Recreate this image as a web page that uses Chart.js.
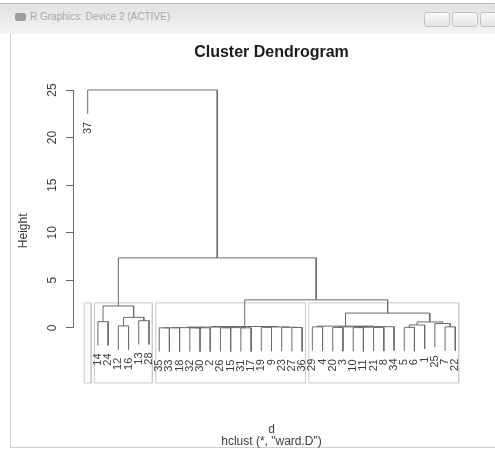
<!DOCTYPE html>
<html>
<head>
<meta charset="utf-8">
<title>Cluster Dendrogram</title>
<script src="https://cdn.jsdelivr.net/npm/chart.js@4.4.0/dist/chart.umd.min.js"></script>
<style>
body { margin:0; width:495px; height:452px; background:#fff; overflow:hidden; position:relative; font-family:"Liberation Sans", Arial, sans-serif; }
.bar { position:absolute; left:0; top:3px; width:495px; height:30px; background:linear-gradient(#e2e2e2,#f3f3f3); border-top:1px solid #c2c2c2; }
.bar .ico { position:absolute; left:15px; top:9px; width:11px; height:8px; background:#9c9c9c; border-radius:2px; }
.bar .ttl { position:absolute; left:30px; top:7px; font-size:10px; color:#a9a9a9; }
.btn { position:absolute; top:8px; width:24px; height:13px; border:1px solid #c3c3c3; border-radius:3px; background:linear-gradient(#fafafa,#e4e4e4); }
.frame { position:absolute; left:10px; top:34px; width:485px; height:413px; border-left:1px solid #d0d0d0; border-bottom:1px solid #d0d0d0; }
#wrap { position:absolute; left:0; top:0; width:495px; height:452px; }
</style>
</head>
<body>
<div class="bar">
  <div class="ico"></div>
  <div class="ttl">R Graphics: Device 2 (ACTIVE)</div>
  <div class="btn" style="left:424px"></div>
  <div class="btn" style="left:452px"></div>
  <div class="btn" style="left:480px"></div>
</div>
<div class="frame"></div>
<div id="wrap"><canvas id="myChart" width="495" height="452"></canvas></div>
<script>
// leaves in the order they are plotted (hclust $order, as labels)
var leafOrder = [37, 14, 24, 12, 16, 13, 28,
    35, 33, 18, 32, 30, 2, 26, 15, 31, 17, 19, 9, 23, 27, 36,
    29, 4, 20, 3, 10, 11, 21, 8, 34, 5, 6, 1, 25, 7, 22];

// hclust style merges: negative = observation, positive = earlier merge row (1-based)
var mergeLeft  = [-14, -12, -13, 2, 1,
    -35, 6, -32, 8, 7, -26, -31, 11, 10, -19, -27, -23, 15, 14,
    -29, -20, -10, -21, 22, 21, 25, 20, -5, 28, -7, -25, 29, 27,
    19, 5, -37];
var mergeRight = [-24, -16, -28, 3, 4,
    -33, -18, -30, -2, 9, -15, -17, 12, 13, -9, -36, 16, 17, 18,
    -4, -3, -11, -8, 23, 24, -34, 26, -6, -1, -22, 30, 31, 32,
    33, 34, 35];
var mergeHeight = [0.65, 0.2, 0.75, 1.1, 2.3,
    0, 0, 0, 0, 0.02, 0, 0, 0.02, 0.08, 0.05, 0.03, 0.06, 0.09, 0.14,
    0.1, 0.04, 0.02, 0.05, 0.08, 0.1, 0.12, 0.18, 0.05, 0.3, 0.1, 0.45, 0.62, 1.55,
    2.94, 7.35, 25];

var yTicks = [0, 5, 10, 15, 20, 25];
var hang = 2.5;              // 0.1 * range of heights
var clusterSizes = [1, 6, 15, 15];   // rect.hclust(k = 4)
var boxTop = 2.62;

var lineColor = '#6a6a6a';
var textColor = '#3c3c3c';

// position of each observation along x
var leafPos = {};
leafOrder.forEach(function (lab, i) { leafPos[lab] = i + 1; });

var nodeX = [];
var parentHeight = {};
var datasets = [];

for (var i = 0; i < mergeHeight.length; i++) {
    var h = mergeHeight[i];
    var ends = [mergeLeft[i], mergeRight[i]].map(function (c) {
        if (c < 0) {
            parentHeight[-c] = h;
            return { x: leafPos[-c], y: h - hang };
        }
        return { x: nodeX[c - 1], y: mergeHeight[c - 1] };
    });
    nodeX[i] = (ends[0].x + ends[1].x) / 2;
    datasets.push({
        data: [ends[0], { x: ends[0].x, y: h }, { x: ends[1].x, y: h }, ends[1]],
        borderColor: lineColor,
        borderWidth: 1,
        pointRadius: 0,
        showLine: true,
        clip: false
    });
}

// gray boxes around the 4 groups
var yMin = -5.8;
var cum = 0;
clusterSizes.forEach(function (n) {
    var x0 = cum + 0.66, x1 = cum + n + 0.33;
    datasets.push({
        data: [{ x: x0, y: yMin }, { x: x0, y: boxTop }, { x: x1, y: boxTop }, { x: x1, y: yMin }, { x: x0, y: yMin }],
        borderColor: '#cacaca',
        borderWidth: 1,
        pointRadius: 0,
        showLine: true,
        clip: false
    });
    cum += n;
});

// axis line only from 0 to 25, like R
var axisLine = {
    id: 'axisLine',
    afterDraw: function (chart) {
        var ctx = chart.ctx, y = chart.scales.y;
        var x = Math.round(chart.chartArea.left) + 0.5;
        ctx.save();
        ctx.strokeStyle = lineColor;
        ctx.lineWidth = 1;
        ctx.beginPath();
        ctx.moveTo(x, y.getPixelForValue(yTicks[0]));
        ctx.lineTo(x, y.getPixelForValue(yTicks[yTicks.length - 1]));
        ctx.stroke();
        ctx.restore();
    }
};

// leaf labels hanging under each leaf, rotated
var leafLabels = {
    id: 'leafLabels',
    afterDatasetsDraw: function (chart) {
        var ctx = chart.ctx, xs = chart.scales.x, ys = chart.scales.y;
        ctx.save();
        ctx.fillStyle = textColor;
        ctx.font = '11px "Liberation Sans", Arial, sans-serif';
        ctx.textAlign = 'right';
        ctx.textBaseline = 'middle';
        leafOrder.forEach(function (lab) {
            var px = xs.getPixelForValue(leafPos[lab]);
            var py = ys.getPixelForValue(parentHeight[lab] - hang) + 8;
            ctx.save();
            ctx.translate(px, py);
            ctx.rotate(-Math.PI / 2);
            ctx.fillText(String(lab), 0, 0);
            ctx.restore();
        });
        ctx.restore();
    }
};

var ctx = document.getElementById('myChart').getContext('2d');
var myChart = new Chart(ctx, {
    type: 'scatter',
    data: { datasets: datasets },
    options: {
        responsive: false,
        animation: false,
        devicePixelRatio: 1,
        layout: { padding: { left: 10, right: 25, top: 36, bottom: 0 } },
        plugins: {
            legend: { display: false },
            tooltip: { enabled: false },
            title: {
                display: true,
                text: 'Cluster Dendrogram',
                fullSize: false,
                color: '#1a1a1a',
                font: { family: '"Liberation Sans", Arial, sans-serif', size: 16, weight: 'bold', lineHeight: 1.1 },
                padding: { top: 8, bottom: 17 }
            },
            subtitle: {
                display: true,
                position: 'bottom',
                fullSize: false,
                text: ['d', 'hclust (*, "ward.D")'],
                color: textColor,
                font: { family: '"Liberation Sans", Arial, sans-serif', size: 12, lineHeight: 1.0 },
                padding: { top: 41, bottom: 4 }
            }
        },
        scales: {
            x: { type: 'linear', min: -0.44, max: 38.44, display: false },
            y: {
                type: 'linear',
                position: 'left',
                min: yMin,
                max: 26.2,
                afterBuildTicks: function (scale) {
                    scale.ticks = yTicks.map(function (v) { return { value: v }; });
                },
                afterFit: function (scale) { scale.width = 63; },
                border: { display: false },
                grid: { drawOnChartArea: false, drawTicks: true, tickLength: 7, color: lineColor },
                ticks: {
                    minRotation: 90,
                    maxRotation: 90,
                    crossAlign: 'center',
                    padding: 7,
                    color: textColor,
                    font: { family: '"Liberation Sans", Arial, sans-serif', size: 12 }
                },
                title: {
                    display: true,
                    text: 'Height',
                    color: textColor,
                    font: { family: '"Liberation Sans", Arial, sans-serif', size: 12 },
                    padding: { top: 6, bottom: 0 }
                }
            }
        }
    },
    plugins: [axisLine, leafLabels]
});
</script>
</body>
</html>
